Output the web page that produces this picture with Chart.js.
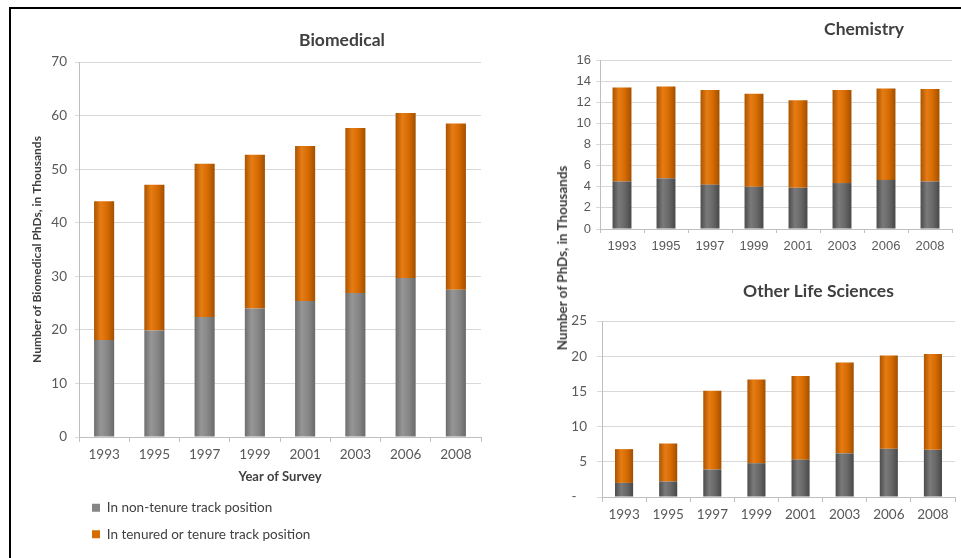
<!DOCTYPE html>
<html>
<head>
<meta charset="utf-8">
<script src="https://cdn.jsdelivr.net/npm/chart.js@4"></script>
<style>
 body{margin:0;background:#fff;width:961px;height:558px;overflow:hidden;position:relative;font-family:Lato,sans-serif;}
 .frame{position:absolute;left:9px;top:7px;width:960px;height:560px;border-left:2px solid #000;border-top:2px solid #000;}
 .box{position:absolute;}
 #ytitle{position:absolute;left:562px;top:258px;transform:translate(-50%,-50%) rotate(-90deg);white-space:nowrap;font:bold 13.5px Lato;color:#404040;}
</style>
</head>
<body>
<div class="frame"></div>
<div class="box" style="left:10px;top:10px;width:485px;height:545px"><canvas id="bio"></canvas></div>
<div class="box" style="left:520px;top:10px;width:438px;height:258px"><canvas id="chem"></canvas></div>
<div class="box" style="left:520px;top:268px;width:441px;height:290px"><canvas id="other"></canvas></div>
<div id="ytitle">Number of PhDs, in Thousands</div>

<script>
// data, thousands of PhDs
const years = ['1993','1995','1997','1999','2001','2003','2006','2008'];
const seriesNames = ['In non-tenure track position', 'In tenured or tenure track position'];

const bioNonTenure = [18.1, 19.9, 22.4, 24.0, 25.4, 26.9, 29.7, 27.5];
const bioTenured   = [25.9, 27.2, 28.6, 28.7, 28.9, 30.8, 30.8, 31.0];

const chemNonTenure = [4.5, 4.8, 4.2, 4.0, 3.9, 4.35, 4.65, 4.5];
const chemTenured   = [8.9, 8.7, 8.95, 8.8, 8.3, 8.8, 8.65, 8.75];

const otherNonTenure = [2.0, 2.2, 3.9, 4.8, 5.3, 6.2, 6.85, 6.7];
const otherTenured   = [4.8, 5.4, 11.2, 11.9, 11.9, 12.9, 13.25, 13.6];

const orange = '#d66c00';
const orangeShade = ['#aa5400', '#e67c14', '#d46a00', '#a24f00'];
const grayLight = '#868686';
const grayLightShade = ['#6e6e6e', '#969696', '#868686', '#6a6a6a'];
const grayDark = '#666666';
const grayDarkShade = ['#4c4c4c', '#7a7a7a', '#676767', '#484848'];

Chart.defaults.font.family = 'Lato';
Chart.defaults.color = '#595959';

// horizontal gradient on each bar, gives the cylinder look
const cylinder = {
  id: 'cylinder',
  beforeDatasetsDraw(chart){
    const ctx = chart.ctx;
    chart.data.datasets.forEach((ds, i) => {
      chart.getDatasetMeta(i).data.forEach(bar => {
        const p = bar.getProps(['x','width'], true);
        const g = ctx.createLinearGradient(p.x - p.width/2, 0, p.x + p.width/2, 0);
        ds.shade.forEach((c, k) => g.addColorStop(k/(ds.shade.length-1), c));
        bar.options.backgroundColor = g;
      });
    });
  }
};

const panelTitle = {
  id: 'panelTitle',
  afterDraw(chart, args, o){
    const {ctx, chartArea} = chart;
    ctx.save();
    ctx.font = 'bold 17.5px Lato';
    ctx.fillStyle = '#404040';
    ctx.textAlign = 'center';
    ctx.textBaseline = 'middle';
    ctx.fillText(o.text, (chartArea.left + chartArea.right)/2 + o.dx, o.y);
    ctx.restore();
  }
};

function datasets(nonTen, ten, gray, grayShade, barPct){
  return [
    { label: seriesNames[0], data: nonTen, backgroundColor: () => gray, shade: grayShade,
      barPercentage: barPct, categoryPercentage: 1 },
    { label: seriesNames[1], data: ten, backgroundColor: () => orange, shade: orangeShade,
      barPercentage: barPct, categoryPercentage: 1 }
  ];
}

function xScale(font, pad, tick, h, title){
  return {
    stacked: true,
    grid: { drawOnChartArea: false, offset: true, tickLength: tick, color: '#bfbfbf' },
    border: { color: '#bfbfbf' },
    ticks: { font: font, padding: pad, maxRotation: 0, autoSkip: false, color: '#595959' },
    title: title || { display: false },
    afterFit: s => { s.height = h; }
  };
}

function yScale(max, step, font, pad, tick, w, extra){
  return Object.assign({
    stacked: true, min: 0, max: max,
    grid: { color: '#d9d9d9', tickLength: tick },
    border: { color: '#bfbfbf' },
    ticks: { stepSize: step, font: font, padding: pad, color: '#595959' },
    afterFit: s => { s.width = w; }
  }, extra || {});
}

new Chart(document.getElementById('bio'), {
  type: 'bar',
  data: { labels: years, datasets: datasets(bioNonTenure, bioTenured, grayLight, grayLightShade, 0.4) },
  options: {
    responsive: true, maintainAspectRatio: false, animation: false,
    layout: { padding: { top: 52, right: 14, left: 0, bottom: 4 } },
    scales: {
      x: xScale({ size: 13.5 }, 5, 5, 51, {
        display: true, text: 'Year of Survey', color: '#404040',
        font: { size: 13, weight: 'bold' }, padding: { top: 0, bottom: 3 }
      }),
      y: yScale(70, 10, { size: 13.5 }, 8, 4, 69, {
        title: { display: true, text: 'Number of Biomedical PhDs, in Thousands', color: '#404040',
                 font: { size: 12, weight: 'bold' }, padding: { top: 20, bottom: 0 } }
      })
    },
    plugins: {
      legend: {
        position: 'bottom', align: 'start', fullSize: false,
        labels: { boxWidth: 8, boxHeight: 8, padding: 13, color: '#404040', font: { size: 13.5 } }
      },
      tooltip: { enabled: false },
      panelTitle: { text: 'Biomedical', dx: 62, y: 30 }
    }
  },
  plugins: [cylinder, panelTitle]
});

new Chart(document.getElementById('chem'), {
  type: 'bar',
  data: { labels: years, datasets: datasets(chemNonTenure, chemTenured, grayDark, grayDarkShade, 0.43) },
  options: {
    responsive: true, maintainAspectRatio: false, animation: false,
    layout: { padding: { top: 50, right: 6, left: 0, bottom: 0 } },
    scales: {
      x: xScale({ family: 'Liberation Sans', size: 13 }, 6, 4, 39),
      y: yScale(16, 2, { family: 'Liberation Sans', size: 13 }, 5, 4, 80)
    },
    plugins: {
      legend: { display: false },
      tooltip: { enabled: false },
      panelTitle: { text: 'Chemistry', dx: 88, y: 19 }
    }
  },
  plugins: [cylinder, panelTitle]
});

new Chart(document.getElementById('other'), {
  type: 'bar',
  data: { labels: years, datasets: datasets(otherNonTenure, otherTenured, grayDark, grayDarkShade, 0.41) },
  options: {
    responsive: true, maintainAspectRatio: false, animation: false,
    layout: { padding: { top: 53, right: 6, left: 0, bottom: 0 } },
    scales: {
      x: xScale({ size: 13.5 }, 5, 5, 61),
      y: yScale(25, 5, { size: 13.5 }, 10, 5, 82, {
        ticks: { stepSize: 5, font: { size: 13.5 }, padding: 10, color: '#595959',
                 callback: v => v === 0 ? '-   ' : v }
      })
    },
    plugins: {
      legend: { display: false },
      tooltip: { enabled: false },
      panelTitle: { text: 'Other Life Sciences', dx: 40, y: 23 }
    }
  },
  plugins: [cylinder, panelTitle]
});
</script>
</body>
</html>
